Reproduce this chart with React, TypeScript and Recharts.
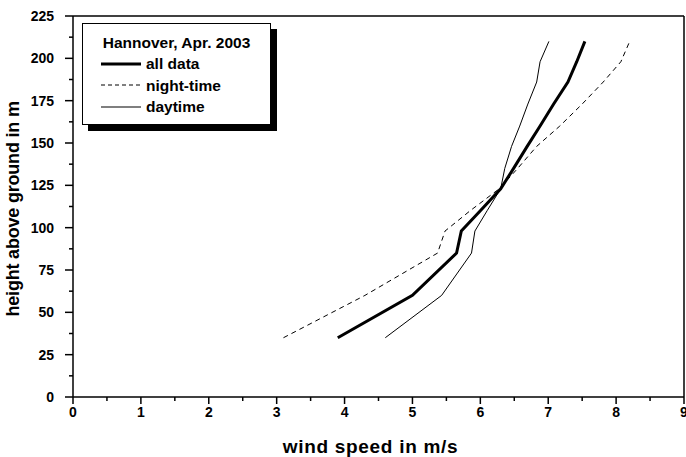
import { LineChart, Line, XAxis, YAxis, ReferenceLine } from "recharts";

const heights = [35, 60, 85, 98, 110, 123, 135, 148, 160, 173, 186, 198, 210];
const allData = [3.9, 5.0, 5.65, 5.72, 6.0, 6.3, 6.49, 6.69, 6.88, 7.08, 7.29, 7.42, 7.54];
const nightTime = [3.1, 4.3, 5.37, 5.48, 5.85, 6.28, 6.55, 6.83, 7.17, 7.5, 7.81, 8.07, 8.2];
const daytime = [4.6, 5.43, 5.87, 5.92, 6.1, 6.3, 6.36, 6.46, 6.58, 6.7, 6.83, 6.88, 7.01];

const xTicks = [0, 0.5, 1, 1.5, 2, 2.5, 3, 3.5, 4, 4.5, 5, 5.5, 6, 6.5, 7, 7.5, 8, 8.5, 9];
const yTicks = [0, 12.5, 25, 37.5, 50, 62.5, 75, 87.5, 100, 112.5, 125, 137.5, 150, 162.5, 175, 187.5, 200, 212.5, 225];
const yLabelTicks = [0, 25, 50, 75, 100, 125, 150, 175, 200, 225];

const legendTitle = "Hannover, Apr. 2003";
const seriesNames = ["all data", "night-time", "daytime"];

const toPoints = (speeds: number[]) => speeds.map((s, i) => ({ speed: s, height: heights[i] }));

const FONT = "'Liberation Sans Narrow', 'Arial Narrow', 'Liberation Sans', Arial, sans-serif";
const WIDE = "'Liberation Sans', Arial, sans-serif";

const XTick = ({ x, y, payload }: any) => {
  const major = Number.isInteger(payload.value);
  return (
    <g>
      <line x1={x} x2={x} y1={y} y2={y + (major ? 7 : 4)} stroke="#000" strokeWidth={1.5} />
      {major && (
        <text x={x} y={y + 20} textAnchor="middle" fontFamily={FONT} fontWeight="bold" fontSize={14} fill="#000">
          {payload.value}
        </text>
      )}
    </g>
  );
};

const YTick = ({ x, y, payload }: any) => {
  const major = yLabelTicks.includes(payload.value);
  return (
    <g>
      <line x1={x} x2={x - (major ? 8 : 4)} y1={y} y2={y} stroke="#000" strokeWidth={1.5} />
      {major && (
        <text x={x - 19} y={y + 5} textAnchor="end" fontFamily={FONT} fontWeight="bold" fontSize={14} fill="#000">
          {payload.value}
        </text>
      )}
    </g>
  );
};

const LegendBox = () => {
  const samples = [
    { w: 3, dash: undefined },
    { w: 1, dash: "4 3" },
    { w: 1.2, dash: undefined },
  ];
  return (
    <div
      style={{
        position: "absolute",
        left: 82,
        top: 23,
        width: 187,
        height: 100,
        border: "1px solid #000",
        background: "#fff",
        boxShadow: "6px 6px 0 #000",
        fontFamily: WIDE,
        fontWeight: "bold",
        fontSize: 15.5,
        color: "#000",
      }}
    >
      <div style={{ textAlign: "center", marginTop: 11, marginBottom: 2, lineHeight: "16px" }}>{legendTitle}</div>
      {seriesNames.map((name, i) => (
        <div key={name} style={{ display: "flex", alignItems: "center", height: 21.5, lineHeight: "21px", marginLeft: 18 }}>
          <svg width={42} height={10} style={{ marginRight: 3 }}>
            <line x1={0} x2={40} y1={5} y2={5} stroke="#000" strokeWidth={samples[i].w} strokeDasharray={samples[i].dash} />
          </svg>
          <span>{name}</span>
        </div>
      ))}
    </div>
  );
};

export default function App() {
  return (
    <div style={{ position: "relative", width: 686, height: 457 }}>
      <style>{`body{margin:0}`}</style>
      <LineChart width={686} height={457} margin={{ top: 16, right: 2, left: 33, bottom: 0 }}>
        <XAxis
          dataKey="speed"
          type="number"
          domain={[0, 9]}
          ticks={xTicks}
          interval={0}
          tickSize={0}
          tickMargin={0}
          tickLine={false}
          tick={<XTick />}
          height={60}
          stroke="#000"
          strokeWidth={1.5}
          allowDataOverflow
          label={{ value: "wind speed in m/s", position: "insideBottom", offset: 4, dx: -8, fill: "#000", fontFamily: WIDE, fontWeight: "bold", fontSize: 19, letterSpacing: 0.7 }}
        />
        <YAxis
          dataKey="height"
          type="number"
          domain={[0, 225]}
          ticks={yTicks}
          interval={0}
          tickSize={0}
          tickMargin={0}
          tickLine={false}
          tick={<YTick />}
          width={40}
          stroke="#000"
          strokeWidth={1.5}
          allowDataOverflow
          label={{ value: "height above ground in m", angle: -90, position: "insideLeft", offset: -20, dy: 110, fill: "#000", fontFamily: WIDE, fontWeight: "bold", fontSize: 18, letterSpacing: -0.2 }}
        />
        <ReferenceLine y={225} stroke="#000" strokeWidth={1.5} />
        <ReferenceLine x={9} stroke="#000" strokeWidth={1.5} />
        <Line data={toPoints(allData)} dataKey="height" name={seriesNames[0]} type="linear" stroke="#000" strokeWidth={3} dot={false} isAnimationActive={false} />
        <Line data={toPoints(nightTime)} dataKey="height" name={seriesNames[1]} type="linear" stroke="#000" strokeWidth={1} strokeDasharray="5 4" dot={false} isAnimationActive={false} />
        <Line data={toPoints(daytime)} dataKey="height" name={seriesNames[2]} type="linear" stroke="#000" strokeWidth={1} dot={false} isAnimationActive={false} />
      </LineChart>
      <LegendBox />
    </div>
  );
}
